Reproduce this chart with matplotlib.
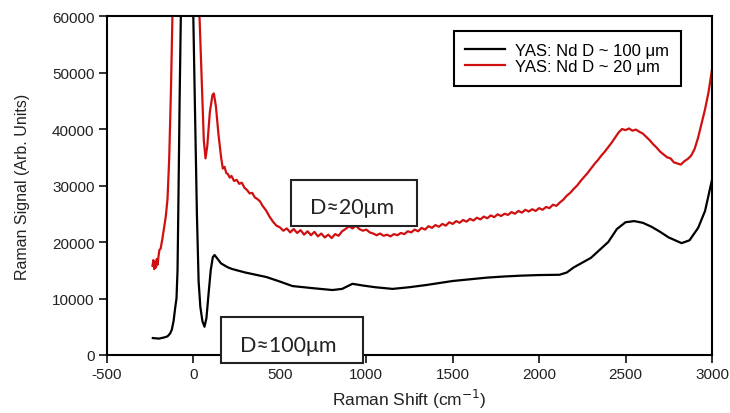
import matplotlib.pyplot as plt
from matplotlib.patches import Rectangle

# Black trace: YAS:Nd D ~ 100 um
shift_100 = [-235, -200, -170, -150, -135, -125, -115, -105, -98, -92, -87, -80, -72, -50,
             -20, -2, 8, 20, 30, 40, 52, 64, 75, 88, 100, 112, 122, 135, 160, 200, 226,
             300, 422, 500, 573, 700, 804, 860, 920, 980, 1050, 1152, 1250, 1350, 1500,
             1600, 1700, 1800, 1900, 2000, 2118, 2160, 2200, 2300, 2400, 2450, 2500,
             2550, 2600, 2650, 2700, 2750, 2824, 2870, 2920, 2960, 3000]
signal_100 = [3000, 2900, 3100, 3300, 3800, 4500, 6000, 8500, 10000, 15000, 27000, 45000,
              62000, 80000, 80000, 62000, 45000, 25000, 13000, 8500, 6000, 5000, 6500,
              11000, 15000, 17300, 17700, 17200, 16200, 15500, 15200, 14600, 13800, 13000,
              12200, 11800, 11500, 11700, 12600, 12300, 12000, 11700, 12000, 12400, 13100,
              13400, 13700, 13900, 14050, 14150, 14200, 14600, 15500, 17200, 20000, 22300,
              23500, 23700, 23400, 22700, 21800, 20800, 19800, 20300, 22500, 25500, 31000]

# Red trace: YAS:Nd D ~ 20 um
shift_20 = [-237, -232, -227, -222, -217, -212, -207, -202, -197, -190, -180, -170, -160,
            -150, -140, -130, -122, -110, 20, 35, 50, 60, 70, 80, 95, 110, 118, 130, 145,
            160, 170, 180, 190, 200, 210, 220, 235, 250, 265, 280, 295, 310, 325, 340, 355,
            370, 385, 400, 420, 440, 460, 480,
            500, 520, 540, 560, 580, 600, 620, 640, 660, 680, 700, 720, 740, 760, 780, 800,
            820, 840, 860, 880, 900, 920, 940, 960, 980, 1000, 1020, 1040, 1060, 1080, 1100,
            1120, 1140, 1160, 1180, 1200, 1220, 1240, 1260, 1280, 1300, 1320, 1340, 1360,
            1380, 1400, 1420, 1440, 1460, 1480, 1500, 1520, 1540, 1560, 1580, 1600, 1620,
            1640, 1660, 1680, 1700, 1720, 1740, 1760, 1780, 1800, 1820, 1840, 1860, 1880,
            1900, 1920, 1940, 1960, 1980, 2000, 2020, 2040, 2060, 2080, 2100, 2120, 2140,
            2160, 2180, 2200, 2220, 2240, 2260, 2280, 2300, 2320, 2340, 2360, 2380, 2400,
            2420, 2440, 2460, 2480, 2500, 2520, 2540, 2560, 2580, 2600, 2620, 2640, 2660,
            2680, 2700, 2720, 2740, 2760, 2780, 2800, 2820, 2840, 2860, 2880, 2900, 2920,
            2940, 2960, 2980, 3000]
signal_20 = [15800, 16800, 15200, 16500, 15500, 17000, 16000, 17500, 18600, 18800, 20500,
             22500, 24500, 27600, 35000, 47000, 60000, 75000, 75000, 60000, 47000, 38000,
             34800, 37000, 43000, 46000, 46300, 44000, 39000,
             35000, 33000, 33300, 32200, 32000, 31400, 31700, 30800, 31000, 30300, 30500,
             29600, 29200, 28600, 28700, 27900, 27600, 27200, 26400, 25600, 24500, 23600,
             22900,
             22600, 22000, 22400, 21700, 22300, 21600, 22100, 21300, 21900, 21200, 21800,
             21000, 21500, 20800, 21300, 20700, 21400, 21100, 21900, 22300, 22800, 22400,
             22900, 22300, 22000, 22200, 21700, 21500, 21200, 21500, 21100, 21300, 21000,
             21400, 21200, 21600, 21400, 21900, 21700, 22200, 21900, 22500, 22200, 22800,
             22500, 23000, 22700, 23200, 22900, 23500, 23200, 23700, 23400, 23900, 23600,
             24100, 23800, 24300, 24000, 24500, 24200, 24700, 24400, 24900, 24600, 25000,
             24800, 25300, 25000, 25500, 25200, 25700, 25400, 25800, 25500, 26000, 25700,
             26200, 26000, 26600, 26400, 27000, 27500, 28200, 28700, 29400, 30000, 30800,
             31500, 32200, 33000, 33800, 34500, 35300, 36000, 36800, 37600, 38500, 39400,
             40000, 39800, 40100, 39700, 39900, 39500, 39200, 38600, 38000, 37300, 36700,
             36000, 35500, 35000, 34800, 34100, 33900, 33700, 34300, 34700, 35300, 36500,
             38500, 41000, 43500, 46500, 50500]

x_ticks = [-500, 0, 500, 1000, 1500, 2000, 2500, 3000]
y_ticks = [0, 10000, 20000, 30000, 40000, 50000, 60000]

plt.rcParams['font.family'] = ['Liberation Sans', 'DejaVu Sans']
plt.rcParams['axes.unicode_minus'] = False

fig = plt.figure(figsize=(7.3, 4.14), dpi=100)
ax = fig.add_axes([0.1466, 0.1401, 0.8287, 0.8188])

ax.plot(shift_100, signal_100, color='black', lw=1.6, label='YAS: Nd D ~ 100 \u03bcm')
ax.plot(shift_20, signal_20, color='#d01010', lw=1.6, label='YAS: Nd D ~ 20 \u03bcm')

ax.set_xlim(-500, 3000)
ax.set_ylim(0, 60000)
ax.set_xticks(x_ticks)
ax.set_yticks(y_ticks)
ax.tick_params(direction='out', length=6, width=1.3, pad=3, labelsize=11, colors='#222222')
for sp in ax.spines.values():
    sp.set_linewidth(1.5)

ax.set_xlabel('Raman Shift (cm$^{-1}$)', fontsize=12.5, labelpad=4, color='#222222')
ax.set_ylabel('Raman Signal (Arb. Units)', fontsize=11.5, labelpad=16, color='#222222')

leg = ax.legend(loc='upper right', bbox_to_anchor=(0.9488, 0.9558), borderaxespad=0,
                fancybox=False, edgecolor='black', fontsize=12, handlelength=2.4,
                handletextpad=0.6, borderpad=0.7, labelspacing=0.1, framealpha=1)
leg.get_frame().set_linewidth(1.5)

# annotation boxes
box_font = ['Lato', 'DejaVu Sans']
fig.patches.append(Rectangle((0.3986, 0.4517), 0.1726, 0.1111, transform=fig.transFigure,
                             facecolor='white', edgecolor='#222222', lw=1.5, zorder=5))
fig.text(0.4822, 0.497, 'D\u224820\u03bcm', fontsize=15.5, family=box_font,
         ha='center', va='center', color='#222222', zorder=6)
fig.patches.append(Rectangle((0.3027, 0.1208), 0.1945, 0.1111, transform=fig.transFigure,
                             facecolor='white', edgecolor='#222222', lw=1.5, zorder=5))
fig.text(0.3945, 0.165, 'D\u2248100\u03bcm', fontsize=15.5, family=box_font,
         ha='center', va='center', color='#222222', zorder=6)

fig.savefig('out.png', dpi=100)
